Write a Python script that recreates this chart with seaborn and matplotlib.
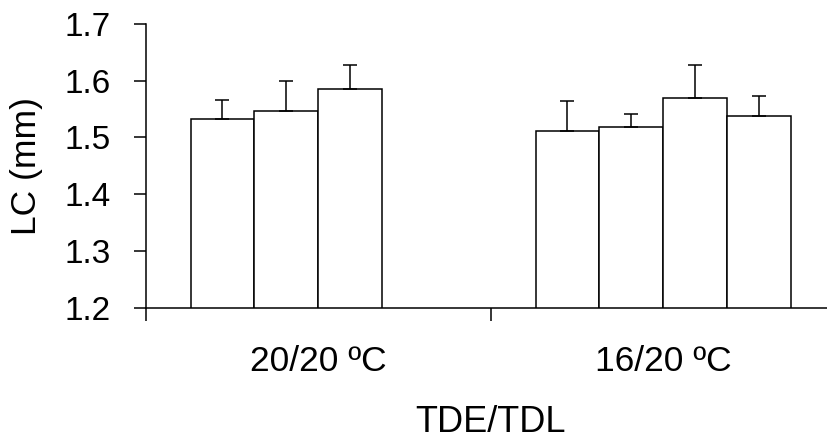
import numpy as np
import pandas as pd
import matplotlib
matplotlib.use("Agg")
import matplotlib.pyplot as plt
import seaborn as sns

# ---- data ----
categories = ["20/20 ºC", "16/20 ºC"]
series = ["S1", "S2", "S3", "S4"]
values_g1 = [1.532, 1.546, 1.586]
errors_g1 = [0.034, 0.054, 0.041]
values_g2 = [1.512, 1.518, 1.569, 1.538]
errors_g2 = [0.053, 0.024, 0.058, 0.035]
y_ticks = [1.2, 1.3, 1.4, 1.5, 1.6, 1.7]
x_title = "TDE/TDL"
y_title = "LC (mm)"

rows = []
for cat, vals, errs in [(categories[0], values_g1, errors_g1),
                        (categories[1], values_g2, errors_g2)]:
    for s, v, e in zip(series, vals, errs):
        rows.append({"cat": cat, "series": s, "value": v, "err": e})
df = pd.DataFrame(rows)

sns.set_style("white")
plt.rcParams["font.family"] = ["Liberation Sans", "DejaVu Sans"]
plt.rcParams["text.color"] = "black"
plt.rcParams["axes.labelcolor"] = "black"
plt.rcParams["xtick.color"] = "black"
plt.rcParams["ytick.color"] = "black"

fig = plt.figure(figsize=(8.28, 4.44), dpi=100)
ax = fig.add_axes([145.7 / 828, 1 - 307.5 / 444, 690 / 828, (307.5 - 24) / 444])

bar_w = 0.74
sns.barplot(data=df, x="cat", y="value", hue="series", order=categories,
            hue_order=series, width=bar_w, dodge=True, errorbar=None,
            palette=["white"] * 4, edgecolor="black", linewidth=1.1,
            legend=False, ax=ax, zorder=2)

# error bars (upper only) placed on the drawn bars
nh = len(series)
bw = bar_w / nh
for p in ax.patches:
    h = p.get_height()
    if not np.isfinite(h):
        continue
    xc = p.get_x() + p.get_width() / 2
    ci = int(round(xc))
    hi = int(round((xc - ci + bar_w / 2 - bw / 2) / bw))
    sub = df[(df["cat"] == categories[ci]) & (df["series"] == series[hi])]
    if len(sub) == 0:
        continue
    e = float(sub["err"].iloc[0])
    ax.errorbar([xc], [h], yerr=[[0], [e]], fmt="none", ecolor="black",
                elinewidth=1.1, capsize=5, capthick=1.1, zorder=3)

ax.set_ylim(1.2, 1.7)
ax.set_xlim(-0.5, len(categories) - 0.5)
ax.set_yticks(y_ticks)
ax.set_yticklabels([f"{t:.1f}" for t in y_ticks])

# category boundaries as major ticks, labels at centres as minor ticks
ax.set_xticks(np.arange(len(categories) + 1) - 0.5)
ax.set_xticklabels([])
ax.set_xticks(np.arange(len(categories)), minor=True)
ax.set_xticklabels(categories, minor=True)

ax.tick_params(axis="x", which="major", direction="out", length=9, width=1.1,
               bottom=True, color="black")
ax.tick_params(axis="x", which="minor", length=0, pad=27, labelsize=25.5,
               bottom=True, labelcolor="black")
ax.tick_params(axis="y", direction="out", length=9, width=1.1, pad=16,
               labelsize=24, left=True, color="black", labelcolor="black")

for s in ["top", "right"]:
    ax.spines[s].set_visible(False)
for s in ["left", "bottom"]:
    ax.spines[s].set_color("black")
    ax.spines[s].set_linewidth(1.1)

ax.set_xlabel(x_title, fontsize=26, color="black")
ax.set_ylabel(y_title, fontsize=25.5, color="black")
ax.xaxis.set_label_coords(0.5, -0.345)
ax.yaxis.set_label_coords(-0.149, 0.5)

fig.savefig("out.png", dpi=100)
